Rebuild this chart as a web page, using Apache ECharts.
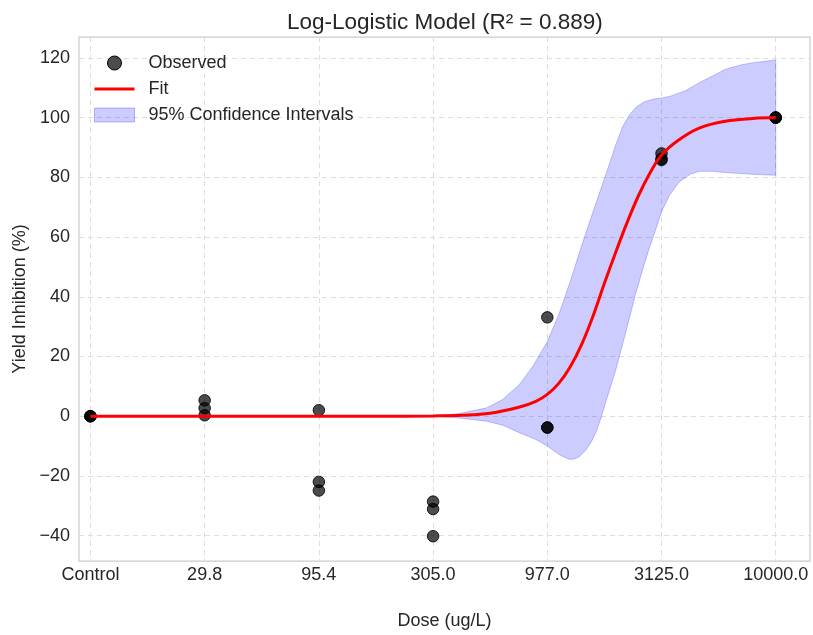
<!DOCTYPE html>
<html>
<head>
<meta charset="utf-8">
<script src="https://cdn.jsdelivr.net/npm/echarts@6/dist/echarts.min.js"></script>
<style>
html,body{margin:0;padding:0;background:#fff;}
#chart{width:813px;height:635px;}
</style>
</head>
<body>
<div id="chart"></div>
<script>
// Category labels (equally spaced positions 0..6)
const categories = ['Control', '29.8', '95.4', '305.0', '977.0', '3125.0', '10000.0'];
const yTicks = [-40, -20, 0, 20, 40, 60, 80, 100, 120];

// Observed points (x position, inhibition %)
const obsX = [0, 0, 0, 1, 1, 1, 2, 2, 2, 3, 3, 3, 4, 4, 4, 5, 5, 5, 6, 6, 6];
const obsY = [0, 0, 0, 5.3, 2.7, 0.3, 2.0, -22.0, -24.9, -28.6, -31.1, -40.2, 33.1, -3.8, -3.8, 88.0, 86.2, 85.8, 100, 100, 100];

// Fitted curve
const fitX = [0, 1, 2, 2.5, 3.0, 3.25, 3.5, 3.75, 3.9, 4.0, 4.1, 4.2, 4.3, 4.4, 4.5, 4.6, 4.7, 4.8, 4.9, 5.0, 5.15, 5.33, 5.56, 5.8, 6.0];
const fitY = [0, 0, 0, 0, 0.1, 0.3, 1.0, 3.0, 5.0, 7.3, 11.0, 16.5, 24.0, 33.5, 44.5, 55.0, 65.0, 74.0, 81.5, 87.5, 92.5, 96.5, 98.8, 99.7, 100];

// 95% confidence band
const ciUpperX = [0, 3.0, 3.23, 3.47, 3.61, 3.76, 3.875, 4.0, 4.1, 4.2, 4.3, 4.37, 4.45, 4.54, 4.6, 4.66, 4.72, 4.78, 4.85, 4.93, 5.0, 5.07, 5.21, 5.33, 5.45, 5.56, 5.7, 5.8, 6.0];
const ciUpper =  [0, 0, 0.9, 2.8, 5.6, 10.8, 16.8, 25.0, 34.0, 45.0, 57.0, 65.0, 74.0, 84.0, 91.0, 97.0, 101.0, 103.6, 105.3, 106.2, 106.6, 107.1, 109.0, 111.7, 114.0, 116.2, 117.7, 118.4, 119.3];
const ciLowerX = [0, 3.0, 3.23, 3.47, 3.61, 3.76, 3.9, 4.0, 4.11, 4.19, 4.23, 4.28, 4.34, 4.39, 4.43, 4.47, 4.51, 4.6, 4.69, 4.77, 4.83, 4.89, 4.95, 5.0, 5.07, 5.15, 5.25, 5.33, 5.45, 5.56, 5.8, 6.0];
const ciLower =  [0, 0, -0.6, -1.7, -3.0, -5.6, -7.8, -10.0, -13.0, -14.4, -14.4, -13.6, -11.2, -8.3, -5.0, -0.6, 4.5, 15.6, 28.5, 40.5, 48.5, 55.9, 62.6, 68.5, 74.0, 78.3, 81.0, 82.0, 82.0, 81.6, 81.0, 80.7];

const obsData = obsX.map((x, i) => [x, obsY[i]]);
const fitData = fitX.map((x, i) => [x, fitY[i]]);

const chart = echarts.init(document.getElementById('chart'));
const font = 'Liberation Sans, Arial, sans-serif';
const textColor = '#262626';

chart.setOption({
  animation: false,
  backgroundColor: '#ffffff',
  title: {
    text: 'Log-Logistic Model (R² = 0.889)',
    left: 282,
    top: 6,
    textStyle: {fontFamily: font, fontSize: 22.5, fontWeight: 'normal', color: textColor}
  },
  legend: {
    orient: 'vertical',
    left: 89,
    top: 49,
    itemWidth: 40,
    itemHeight: 14,
    itemGap: 8,
    textStyle: {fontFamily: font, fontSize: 18, color: textColor, padding: [0, 0, 0, 9]},
    data: [
      {name: 'Observed', icon: 'circle', itemStyle: {color: 'rgba(0,0,0,0.7)', borderColor: '#000', borderWidth: 1}},
      {name: 'Fit', icon: 'path://M0,0 L40,0 L40,3 L0,3 Z', itemStyle: {color: '#ff0000', borderWidth: 0}},
      {name: '95% Confidence Intervals', icon: 'rect', itemStyle: {color: 'rgba(0,0,255,0.2)', borderColor: 'rgba(0,0,255,0.25)', borderWidth: 1}}
    ]
  },
  grid: {
    left: 79, right: 3, top: 37, bottom: 72.5,
    show: true, borderColor: '#cccccc', borderWidth: 1.25, backgroundColor: 'transparent'
  },
  xAxis: {
    type: 'value',
    min: -0.1,
    max: 6.3,
    name: 'Dose (ug/L)',
    nameLocation: 'middle',
    nameGap: 51,
    nameTextStyle: {fontFamily: font, fontSize: 18, color: textColor},
    axisLine: {show: false},
    axisTick: {show: false, customValues: [0, 1, 2, 3, 4, 5, 6]},
    axisLabel: {
      customValues: [0, 1, 2, 3, 4, 5, 6],
      formatter: v => categories[Math.round(v)],
      fontFamily: font, fontSize: 18, color: textColor, margin: 5
    },
    splitLine: {show: true, lineStyle: {color: '#dedede', type: [5, 4], width: 1}}
  },
  yAxis: {
    type: 'value',
    min: -48.5,
    max: 127.0,
    name: 'Yield Inhibition (%)',
    nameLocation: 'middle',
    nameGap: 43,
    nameTextStyle: {fontFamily: font, fontSize: 18, color: textColor},
    axisLine: {show: false},
    axisTick: {show: false, customValues: yTicks},
    axisLabel: {
      customValues: yTicks,
      formatter: v => (v < 0 ? '\u2212' + Math.abs(v) : String(v)),
      fontFamily: font, fontSize: 18, color: textColor, margin: 9
    },
    splitLine: {show: true, lineStyle: {color: '#dedede', type: [5, 4], width: 1}}
  },
  series: [
    {
      name: '95% Confidence Intervals',
      type: 'custom',
      clip: true,
      z: 1,
      itemStyle: {color: 'rgba(0,0,255,0.2)'},
      data: [[0, 0]],
      renderItem: function (params, api) {
        const pts = [];
        for (let i = 0; i < ciUpperX.length; i++) pts.push(api.coord([ciUpperX[i], ciUpper[i]]));
        for (let i = ciLowerX.length - 1; i >= 0; i--) pts.push(api.coord([ciLowerX[i], ciLower[i]]));
        return {
          type: 'polygon',
          shape: {points: pts},
          style: {fill: 'rgba(0,0,255,0.2)', stroke: 'rgba(0,0,255,0.22)', lineWidth: 1}
        };
      }
    },
    {
      name: 'Observed',
      type: 'scatter',
      z: 2,
      symbol: 'circle',
      symbolSize: 11.5,
      itemStyle: {color: 'rgba(0,0,0,0.7)', borderColor: 'rgba(0,0,0,0.85)', borderWidth: 1, opacity: 1},
      data: obsData
    },
    {
      name: 'Fit',
      type: 'line',
      z: 3,
      smooth: 0.4,
      showSymbol: false,
      symbol: 'none',
      lineStyle: {color: '#ff0000', width: 3},
      itemStyle: {color: '#ff0000'},
      data: fitData
    }
  ]
});
</script>
</body>
</html>
